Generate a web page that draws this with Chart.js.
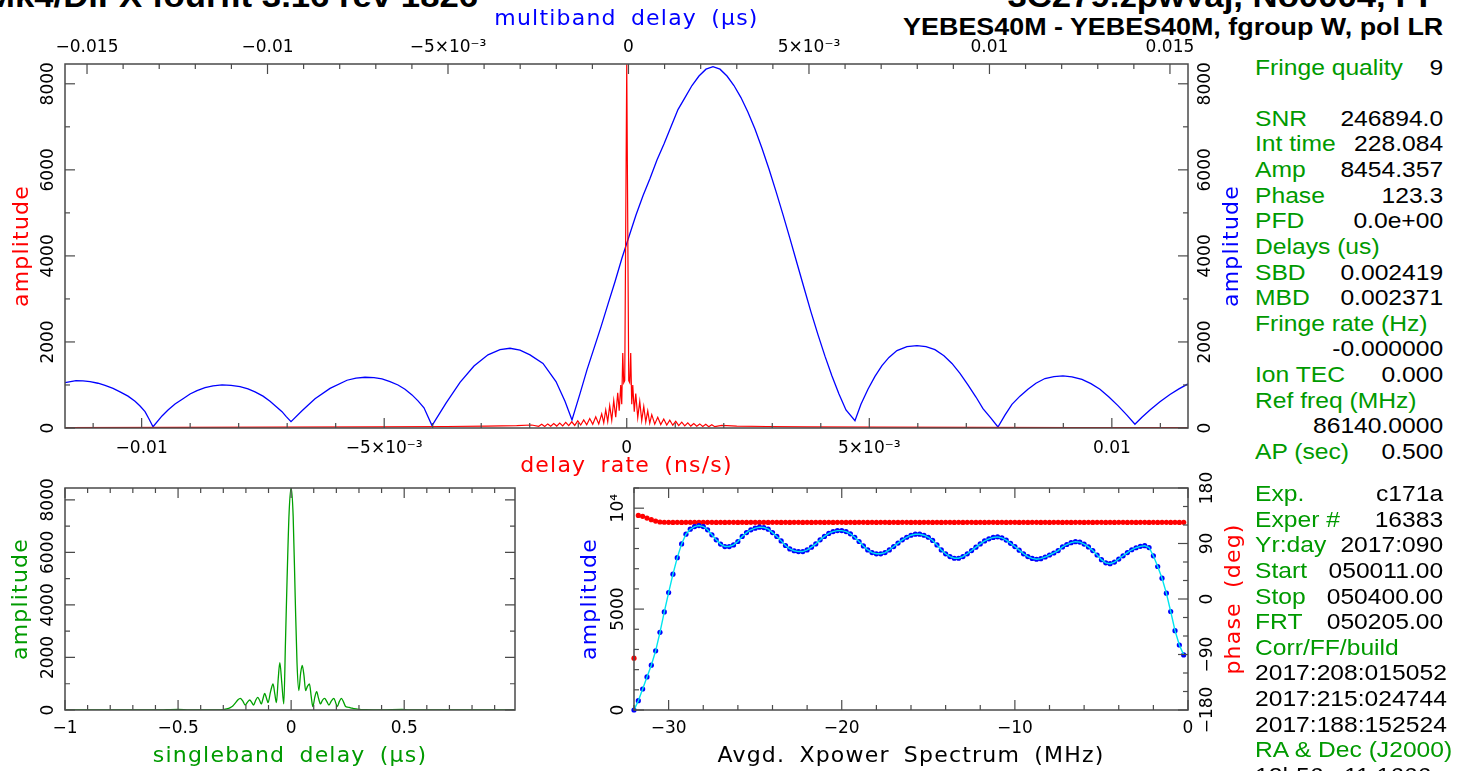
<!DOCTYPE html>
<html>
<head>
<meta charset="utf-8">
<title>fourfit fringe plot</title>
<script src="https://cdn.jsdelivr.net/npm/chart.js"></script>
<style>
  html, body { margin: 0; padding: 0; background: #fff; }
  body { position: relative; width: 1462px; height: 771px; overflow: hidden; font-family: "Liberation Sans", Arial, sans-serif; }
  canvas { position: absolute; }
  .head { position: absolute; font-weight: bold; white-space: nowrap; color: #000; transform: scaleX(1.12); }
  .info { position: absolute; left: 1255px; width: 168px; font-size: 22px; line-height: 25.64px; transform: scaleX(1.12); transform-origin: left top; }
  .info div { display: flex; justify-content: space-between; white-space: nowrap; height: 25.64px; }
  .lab { color: #009a00; }
</style>
</head>
<body>
<div class="head" style="left:-14px; top:-19px; font-size:31px; line-height:31px; transform-origin:left top;">Mk4/DiFX fourfit 3.16 rev 1826</div>
<div class="head" style="right:20px; top:-19px; font-size:31px; line-height:31px; transform-origin:right top;">3C279.zpwvaj, No0004, PP</div>
<div class="head" style="right:19px; top:15px; font-size:24px; line-height:24px; transform-origin:right top;">YEBES40M - YEBES40M, fgroup W, pol LR</div>

<canvas id="mainPlot" width="1250" height="480" style="left:0; top:0;"></canvas>
<canvas id="sbdPlot" width="560" height="331" style="left:0; top:440px;"></canvas>
<canvas id="specPlot" width="690" height="331" style="left:560px; top:440px;"></canvas>

<div class="info" id="infoTop" style="top:54.5px;"></div>
<div class="info" id="infoBottom" style="top:481px;"></div>

<script>
// multiband delay (us) / amplitude, blue curve on the top panel
const mbdDelay = [
  -0.015609, -0.015304, -0.015110, -0.014916, -0.014695, -0.014501, -0.014279, -0.014085,
  -0.013864, -0.013670, -0.013531, -0.013393, -0.013282, -0.013171,
  -0.012922, -0.012756, -0.012562, -0.012340, -0.012146, -0.011953, -0.011731, -0.011509,
  -0.011260, -0.011011, -0.010761, -0.010540, -0.010346, -0.010124, -0.009930, -0.009764,
  -0.009598, -0.009487, -0.009349,
  -0.009044, -0.008684, -0.008268, -0.007798, -0.007548, -0.007299, -0.007050, -0.006828,
  -0.006606, -0.006385, -0.006191, -0.005997, -0.005831, -0.005665, -0.005443,
  -0.005055, -0.004667, -0.004280, -0.003892, -0.003559, -0.003282, -0.003005, -0.002728,
  -0.002368, -0.002008, -0.001759, -0.001565,
  -0.001343, -0.001150, -0.000956, -0.000762, -0.000568, -0.000374, -0.000180, 0.000014,
  0.000208, 0.000402, 0.000596, 0.000789, 0.000983, 0.001177, 0.001371, 0.001565,
  0.001759, 0.001953, 0.002147, 0.002341, 0.002535, 0.002729, 0.002922, 0.003116,
  0.003310, 0.003504, 0.003698, 0.003892, 0.004086, 0.004280, 0.004474, 0.004668,
  0.004862, 0.005055, 0.005249, 0.005443, 0.005637, 0.005831, 0.006025, 0.006274,
  0.006440, 0.006634, 0.006828, 0.007022, 0.007216, 0.007437, 0.007714, 0.007991,
  0.008241, 0.008490, 0.008739, 0.008961, 0.009183, 0.009404, 0.009626, 0.009820,
  0.010041, 0.010235,
  0.010429, 0.010623, 0.010845, 0.011066, 0.011288, 0.011537, 0.011786, 0.012036,
  0.012285, 0.012562, 0.012811, 0.013061, 0.013310, 0.013559, 0.013808, 0.014030,
  0.014224, 0.014446, 0.014723, 0.015000, 0.015249, 0.015498,
];
const mbdAmp = [
  1053, 1100, 1095, 1080, 1040, 990, 920, 840,
  740, 620, 510, 380, 210, 30,
  280, 420, 560, 680, 790, 870, 940, 980,
  1000, 990, 960, 910, 840, 740, 620, 500,
  380, 270, 147,
  400, 680, 920, 1110, 1160, 1180, 1170, 1140,
  1080, 1000, 900, 770, 630, 470, 55,
  580, 1060, 1440, 1700, 1820, 1853, 1810, 1700,
  1500, 1080, 620, 186,
  800, 1350, 1850, 2350, 2880, 3400, 3950, 4450,
  4950, 5400, 5800, 6230, 6600, 7000, 7400, 7680,
  7960, 8180, 8340, 8400, 8340, 8180, 7960, 7680,
  7340, 6950, 6500, 6020, 5500, 4960, 4400, 3830,
  3260, 2700, 2170, 1670, 1210, 790, 420, 170,
  550, 900, 1200, 1450, 1640, 1800, 1890, 1916,
  1890, 1820, 1680, 1500, 1270, 1000, 720, 450,
  230, 23,
  300, 550, 740, 900, 1040, 1150, 1195, 1210,
  1190, 1130, 1030, 900, 720, 520, 300, 86,
  250, 420, 610, 780, 910, 1024,
];

// delay rate (ns/s) / amplitude, red curve on the top panel
const rateVal = [
  -0.01158, -0.009279, -0.007217, -0.005155, -0.003712, -0.002887, -0.002268, -0.001959,
  -0.001815, -0.001753, -0.001691, -0.001629, -0.001567, -0.001505, -0.001443, -0.001382,
  -0.001320, -0.001258, -0.001196, -0.001134, -0.001072, -0.001010, -0.000949, -0.000887,
  -0.000825, -0.000763, -0.000701, -0.000639, -0.000577, -0.000516, -0.000474, -0.000433,
  -0.000392, -0.000351, -0.000309, -0.000268, -0.000227, -0.000186, -0.000155, -0.000124,
  -0.000103, -0.000082, -0.000062, -0.000041, 0,
  0.000041, 0.000062, 0.000082, 0.000103, 0.000124, 0.000155, 0.000186, 0.000227,
  0.000268, 0.000309, 0.000351, 0.000392, 0.000433, 0.000474, 0.000516, 0.000577,
  0.000639, 0.000701, 0.000763, 0.000825, 0.000887, 0.000949, 0.001010, 0.001072,
  0.001134, 0.001196, 0.001258, 0.001320, 0.001382, 0.001443, 0.001505, 0.001567,
  0.001629, 0.001691, 0.001753, 0.001815, 0.001959, 0.002268, 0.002887, 0.003712,
  0.005155, 0.007217, 0.009279, 0.01157,
];
const rateAmp = [
  10, 15, 20, 25, 35, 45, 55, 70,
  40, 85, 35, 95, 40, 105, 45, 115,
  50, 130, 55, 145, 60, 165, 70, 190,
  75, 220, 85, 260, 95, 330, 120, 420,
  150, 520, 180, 640, 250, 820, 400, 1000,
  550, 1740, 1050, 1100, 8454,
  1100, 1050, 1740, 550, 1000, 380, 800, 240,
  620, 170, 500, 140, 400, 110, 310, 90,
  250, 80, 210, 70, 180, 65, 155, 55,
  135, 50, 120, 45, 105, 40, 95, 35,
  85, 30, 75, 30, 60, 45, 35, 25,
  20, 15, 12, 10,
];

// singleband delay (us) / amplitude, green
const sbdDelay = [
  -1, -0.6, -0.5, -0.45, -0.32, -0.3, -0.285, -0.269, -0.258, -0.247, -0.236, -0.225,
  -0.214, -0.203, -0.193, -0.183, -0.175, -0.166, -0.157, -0.148, -0.14, -0.132, -0.124, -0.117,
  -0.109, -0.102, -0.091, -0.08, -0.072, -0.065, -0.057, -0.05, -0.041, -0.0325, -0.025, -0.018,
  -0.009, 0, 0.009, 0.018, 0.026, 0.034, 0.042, 0.049, 0.057, 0.064, 0.072, 0.081,
  0.089, 0.096, 0.105, 0.113, 0.121, 0.13, 0.139, 0.148, 0.158, 0.167, 0.178, 0.189,
  0.197, 0.204, 0.213, 0.222, 0.232, 0.241, 0.25, 0.26, 0.27, 0.278, 0.3, 0.33,
  0.4, 0.49, 0.52, 0.99,
];
const sbdAmp = [
  0, 0, 25, 0, 0, 15, 40, 90, 150, 260, 380, 445,
  350, 190, 300, 380, 300, 190, 360, 480, 380, 230, 450, 635,
  450, 280, 700, 990, 600, 280, 1200, 1800, 1000, 230, 2600, 4950,
  7500, 8454, 7370, 4300, 1800, 740, 1400, 1700, 1300, 740, 900, 990,
  500, 130, 500, 700, 450, 230, 380, 445, 320, 190, 350, 445,
  280, 130, 320, 445, 300, 130, 110, 90, 70, 50, 25, 10,
  0, 20, 0, 0,
];

// averaged cross power spectrum: channel frequency (MHz), amplitude, phase (deg)
const specFreq = [
  -32, -31.75, -31.5, -31.25, -31, -30.75, -30.5, -30.25,
  -30, -29.75, -29.5, -29.25, -29, -28.75, -28.5, -28.25,
  -28, -27.75, -27.5, -27.25, -27, -26.75, -26.5, -26.25,
  -26, -25.75, -25.5, -25.25, -25, -24.75, -24.5, -24.25,
  -24, -23.75, -23.5, -23.25, -23, -22.75, -22.5, -22.25,
  -22, -21.75, -21.5, -21.25, -21, -20.75, -20.5, -20.25,
  -20, -19.75, -19.5, -19.25, -19, -18.75, -18.5, -18.25,
  -18, -17.75, -17.5, -17.25, -17, -16.75, -16.5, -16.25,
  -16, -15.75, -15.5, -15.25, -15, -14.75, -14.5, -14.25,
  -14, -13.75, -13.5, -13.25, -13, -12.75, -12.5, -12.25,
  -12, -11.75, -11.5, -11.25, -11, -10.75, -10.5, -10.25,
  -10, -9.75, -9.5, -9.25, -9, -8.75, -8.5, -8.25,
  -8, -7.75, -7.5, -7.25, -7, -6.75, -6.5, -6.25,
  -6, -5.75, -5.5, -5.25, -5, -4.75, -4.5, -4.25,
  -4, -3.75, -3.5, -3.25, -3, -2.75, -2.5, -2.25,
  -2, -1.75, -1.5, -1.25, -1, -0.75, -0.5, -0.25,
];
const specAmp = [
  0, 460, 1040, 1640, 2220, 2930, 3850, 4860,
  5820, 6730, 7550, 8230, 8710, 8960, 9090, 9140,
  9090, 8930, 8680, 8430, 8220, 8100, 8100, 8180,
  8350, 8600, 8790, 8930, 9010, 9060, 9040, 8960,
  8790, 8600, 8380, 8150, 7980, 7890, 7850, 7850,
  7930, 8070, 8230, 8430, 8600, 8750, 8840, 8890,
  8890, 8840, 8730, 8560, 8350, 8130, 7930, 7800,
  7740, 7740, 7800, 7930, 8100, 8270, 8430, 8560,
  8660, 8710, 8710, 8660, 8560, 8400, 8180, 7930,
  7740, 7600, 7520, 7520, 7600, 7740, 7900, 8070,
  8230, 8380, 8480, 8550, 8580, 8530, 8420, 8260,
  8100, 7920, 7740, 7600, 7510, 7470, 7500, 7580,
  7680, 7780, 7900, 8080, 8200, 8290, 8340, 8320,
  8220, 8080, 7900, 7680, 7450, 7290, 7250, 7330,
  7480, 7640, 7800, 7940, 8040, 8110, 8140, 8050,
  7640, 7110, 6530, 5790, 4880, 3930, 3220, 2730,
];
const specPhase = [
  -96, 135.6, 134.0, 131.3, 128.6, 126.4, 124.9, 124.5,
  124.3, 124.2, 124.3, 124.2, 124.3, 124.3, 124.2, 124.3,
  124.2, 124.3, 124.3, 124.2, 124.3, 124.2, 124.3, 124.3,
  124.2, 124.3, 124.2, 124.3, 124.3, 124.2, 124.3, 124.2,
  124.3, 124.3, 124.2, 124.3, 124.2, 124.3, 124.3, 124.2,
  124.3, 124.2, 124.3, 124.3, 124.2, 124.3, 124.2, 124.3,
  124.3, 124.2, 124.3, 124.2, 124.3, 124.3, 124.2, 124.3,
  124.2, 124.3, 124.3, 124.2, 124.3, 124.2, 124.3, 124.3,
  124.2, 124.3, 124.2, 124.3, 124.3, 124.2, 124.3, 124.2,
  124.3, 124.3, 124.2, 124.3, 124.2, 124.3, 124.3, 124.2,
  124.3, 124.2, 124.3, 124.3, 124.2, 124.3, 124.2, 124.3,
  124.3, 124.2, 124.3, 124.2, 124.3, 124.3, 124.2, 124.3,
  124.2, 124.3, 124.3, 124.2, 124.3, 124.2, 124.3, 124.3,
  124.2, 124.3, 124.2, 124.3, 124.3, 124.2, 124.3, 124.2,
  124.3, 124.3, 124.2, 124.3, 124.2, 124.3, 124.3, 124.2,
  124.3, 124.2, 124.3, 124.3, 124.2, 124.3, 124.2, 124.3,
];

// tick values and labels
const rateTicks = [-0.01, -0.005, 0, 0.005, 0.01];
const rateLabels = ["\u22120.01", "\u22125\u00d710\u207b\u00b3", "0", "5\u00d710\u207b\u00b3", "0.01"];
const mbdTicks = [-0.015, -0.01, -0.005, 0, 0.005, 0.01, 0.015];
const mbdLabels = ["\u22120.015", "\u22120.01", "\u22125\u00d710\u207b\u00b3", "0", "5\u00d710\u207b\u00b3", "0.01", "0.015"];
const ampTicks = [0, 2000, 4000, 6000, 8000];
const ampLabels = ["0", "2000", "4000", "6000", "8000"];
const sbdTicks = [-1, -0.5, 0, 0.5];
const sbdLabels = ["\u22121", "\u22120.5", "0", "0.5"];
const specTicks = [-30, -20, -10, 0];
const specLabels = ["\u221230", "\u221220", "\u221210", "0"];
const specAmpTicks = [0, 5000, 10000];
const specAmpLabels = ["0", "5000", "10\u2074"];
const phaseTicks = [-180, -90, 0, 90, 180];
const phaseLabels = ["\u2212180", "\u221290", "0", "90", "180"];

// text panel on the right
const infoTop = [
  ["Fringe quality", "9"], ["", ""], ["SNR", "246894.0"], ["Int time", "228.084"],
  ["Amp", "8454.357"], ["Phase", "123.3"], ["PFD", "0.0e+00"], ["Delays (us)", ""],
  ["SBD", "0.002419"], ["MBD", "0.002371"], ["Fringe rate (Hz)", ""], ["", "-0.000000"],
  ["Ion TEC", "0.000"], ["Ref freq (MHz)", ""], ["", "86140.0000"], ["AP (sec)", "0.500"],
];
const infoBottom = [
  ["Exp.", "c171a"], ["Exper #", "16383"], ["Yr:day", "2017:090"], ["Start", "050011.00"],
  ["Stop", "050400.00"], ["FRT", "050205.00"], ["Corr/FF/build", ""], ["", "2017:208:015052"],
  ["", "2017:215:024744"], ["", "2017:188:152524"], ["RA & Dec (J2000)", ""], ["", "12h56m11.1666s"],
];

const GREEN = "#009a00";
const TICK_FONT = '17px "DejaVu Sans", sans-serif';
const TITLE_FONT = '22px "DejaVu Sans", sans-serif';

function fillInfo(id, rows) {
  const box = document.getElementById(id);
  rows.forEach(([lab, val]) => {
    box.insertAdjacentHTML("beforeend", `<div><span class="lab">${lab.replace("&", "&amp;")}</span><span>${val}</span></div>`);
  });
}
fillInfo("infoTop", infoTop);
fillInfo("infoBottom", infoBottom);

// text along one side of the frame; vertical text reads bottom to top
function sideText(ctx, text, side, p, area, gap) {
  ctx.save();
  ctx.textAlign = "center";
  ctx.textBaseline = "alphabetic";
  if (side === "bottom") {
    ctx.fillText(text, p, area.bottom + gap);
  } else if (side === "top") {
    ctx.fillText(text, p, area.top - gap);
  } else {
    const x = side === "left" ? area.left - gap : area.right + gap;
    ctx.translate(x, p);
    ctx.rotate(-Math.PI / 2);
    ctx.fillText(text, 0, 0);
  }
  ctx.restore();
}

// pgplot style frame: ticks inside the box, labels outside
function drawAxis(chart, ax) {
  const ctx = chart.ctx;
  const area = chart.chartArea;
  const scale = chart.scales[ax.id];
  const horiz = ax.side === "top" || ax.side === "bottom";

  ctx.strokeStyle = "#4a4a4a";
  ctx.lineWidth = 1.2;
  const first = Math.ceil(scale.min / ax.minor - 1e-6);
  const last = Math.floor(scale.max / ax.minor + 1e-6);
  for (let k = first; k <= last; k++) {
    const v = k * ax.minor;
    const big = ax.major.some((m) => Math.abs(m - v) < ax.minor / 10);
    const len = big ? 10 : 5;
    const p = scale.getPixelForValue(v);
    ctx.beginPath();
    if (horiz) {
      const edges = [ax.side === "bottom" ? area.bottom : area.top];
      if (ax.mirror) edges.push(ax.side === "bottom" ? area.top : area.bottom);
      edges.forEach((e) => {
        const dir = e === area.bottom ? -1 : 1;
        ctx.moveTo(p, e);
        ctx.lineTo(p, e + dir * len);
      });
    } else {
      const edges = [ax.side === "left" ? area.left : area.right];
      if (ax.mirror) edges.push(ax.side === "left" ? area.right : area.left);
      edges.forEach((e) => {
        const dir = e === area.right ? -1 : 1;
        ctx.moveTo(e, p);
        ctx.lineTo(e + dir * len, p);
      });
    }
    ctx.stroke();
  }

  ctx.fillStyle = "#000";
  ctx.font = TICK_FONT;
  ax.major.forEach((m, i) => sideText(ctx, ax.labels[i], ax.side, scale.getPixelForValue(m), area, ax.gap));

  if (ax.title) {
    ctx.save();
    ctx.fillStyle = ax.titleColor;
    ctx.font = TITLE_FONT;
    ctx.letterSpacing = "1.2px";
    ctx.wordSpacing = "6px";
    const mid = horiz ? (area.left + area.right) / 2 : (area.top + area.bottom) / 2;
    sideText(ctx, ax.title, ax.side, mid, area, ax.titleGap);
    ctx.restore();
  }
}

const pgFrame = {
  id: "pgFrame",
  afterDraw(chart, args, opts) {
    const ctx = chart.ctx;
    const a = chart.chartArea;
    ctx.save();
    ctx.strokeStyle = "#4a4a4a";
    ctx.lineWidth = 1.5;
    ctx.strokeRect(a.left, a.top, a.right - a.left, a.bottom - a.top);
    (opts.axes || []).forEach((ax) => drawAxis(chart, ax));
    ctx.restore();
  },
};

function hiddenAxis(position, min, max, size) {
  const horiz = position === "top" || position === "bottom";
  return {
    type: "linear",
    position: position,
    min: min,
    max: max,
    grid: { display: false },
    border: { display: false },
    ticks: { display: false },
    afterFit: (s) => {
      if (horiz) s.height = size;
      else s.width = size;
    },
  };
}

function points(xs, ys) {
  return xs.map((x, i) => ({ x: x, y: ys[i] }));
}

const baseOptions = {
  responsive: false,
  animation: false,
  events: [],
};

// top panel: delay rate (red) and multiband delay (blue)
new Chart(document.getElementById("mainPlot"), {
  type: "line",
  data: {
    datasets: [
      {
        data: points(rateVal, rateAmp),
        xAxisID: "x",
        yAxisID: "y",
        borderColor: "#ff0000",
        borderWidth: 1.2,
        pointRadius: 0,
      },
      {
        data: points(mbdDelay, mbdAmp),
        xAxisID: "xTop",
        yAxisID: "yRight",
        borderColor: "#0000ff",
        borderWidth: 1.3,
        pointRadius: 0,
      },
    ],
  },
  options: {
    ...baseOptions,
    plugins: {
      legend: { display: false },
      tooltip: { enabled: false },
      pgFrame: {
        axes: [
          { id: "x", side: "bottom", major: rateTicks, labels: rateLabels, minor: 0.001, gap: 25, title: "delay rate (ns/s)", titleColor: "#ff0000", titleGap: 44 },
          { id: "xTop", side: "top", major: mbdTicks, labels: mbdLabels, minor: 0.001, gap: 12, title: "multiband delay (\u00b5s)", titleColor: "#0000ff", titleGap: 39 },
          { id: "y", side: "left", major: ampTicks, labels: ampLabels, minor: 1000, gap: 12, title: "amplitude", titleColor: "#ff0000", titleGap: 37 },
          { id: "yRight", side: "right", major: ampTicks, labels: ampLabels, minor: 1000, gap: 22, title: "amplitude", titleColor: "#0000ff", titleGap: 50 },
        ],
      },
    },
    scales: {
      x: hiddenAxis("bottom", -0.01158, 0.01157, 52),
      xTop: hiddenAxis("top", -0.01561, 0.0155, 64),
      y: hiddenAxis("left", 0, 8460, 65),
      yRight: hiddenAxis("right", 0, 8460, 62),
    },
  },
  plugins: [pgFrame],
});

// lower left: singleband delay
new Chart(document.getElementById("sbdPlot"), {
  type: "line",
  data: {
    datasets: [
      {
        data: points(sbdDelay, sbdAmp),
        borderColor: "#00a000",
        borderWidth: 1.3,
        pointRadius: 0,
        cubicInterpolationMode: "monotone",
      },
    ],
  },
  options: {
    ...baseOptions,
    layout: { padding: { top: 48, right: 45 } },
    plugins: {
      legend: { display: false },
      tooltip: { enabled: false },
      pgFrame: {
        axes: [
          { id: "x", side: "bottom", mirror: true, major: sbdTicks, labels: sbdLabels, minor: 0.1, gap: 23, title: "singleband delay (\u00b5s)", titleColor: GREEN, titleGap: 52 },
          { id: "y", side: "left", mirror: true, major: ampTicks, labels: ampLabels, minor: 1000, gap: 12, title: "amplitude", titleColor: GREEN, titleGap: 38 },
        ],
      },
    },
    scales: {
      x: hiddenAxis("bottom", -1, 0.99, 61),
      y: hiddenAxis("left", 0, 8450, 65),
    },
  },
  plugins: [pgFrame],
});

// lower right: averaged cross power spectrum
new Chart(document.getElementById("specPlot"), {
  type: "line",
  data: {
    datasets: [
      {
        data: points(specFreq, specAmp),
        yAxisID: "y",
        borderColor: "#00e5ee",
        borderWidth: 1.4,
        pointRadius: 0,
        order: 0,
      },
      {
        data: points(specFreq, specAmp),
        yAxisID: "y",
        showLine: false,
        pointRadius: 2.6,
        pointBackgroundColor: "#0000ff",
        pointBorderWidth: 0,
        clip: false,
        order: 1,
      },
      {
        data: points(specFreq, specPhase),
        yAxisID: "yPhase",
        showLine: false,
        pointRadius: 2.6,
        pointBackgroundColor: "#ff0000",
        pointBorderWidth: 0,
        clip: false,
        order: 2,
      },
    ],
  },
  options: {
    ...baseOptions,
    layout: { padding: { top: 48 } },
    plugins: {
      legend: { display: false },
      tooltip: { enabled: false },
      pgFrame: {
        axes: [
          { id: "x", side: "bottom", mirror: true, major: specTicks, labels: specLabels, minor: 2, gap: 23, title: "Avgd. Xpower Spectrum (MHz)", titleColor: "#000", titleGap: 52 },
          { id: "y", side: "left", major: specAmpTicks, labels: specAmpLabels, minor: 1000, gap: 11, title: "amplitude", titleColor: "#0000ff", titleGap: 38 },
          { id: "yPhase", side: "right", major: phaseTicks, labels: phaseLabels, minor: 30, gap: 24, title: "phase (deg)", titleColor: "#ff0000", titleGap: 52 },
        ],
      },
    },
    scales: {
      x: hiddenAxis("bottom", -32, 0, 61),
      y: hiddenAxis("left", 0, 11000, 74),
      yPhase: hiddenAxis("right", -180, 180, 62),
    },
  },
  plugins: [pgFrame],
});
</script>
</body>
</html>
